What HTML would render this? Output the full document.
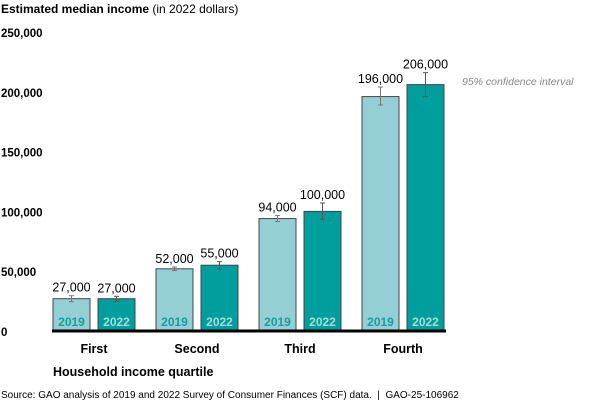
<!DOCTYPE html>
<html><head><meta charset="utf-8">
<style>
body{margin:0;background:#fff;}
svg{display:block;font-family:"Liberation Sans",Arial,sans-serif;}
</style></head>
<body>
<svg id="chart" width="600" height="404" viewBox="0 0 600 404">
<text x="1" y="13" font-size="12" fill="#000"><tspan font-weight="bold">Estimated median income</tspan> (in 2022 dollars)</text>
<g id="yaxis"></g>
<g id="bars"></g>
<line x1="52" x2="446" y1="331" y2="331" stroke="#000" stroke-width="3"/>
<g id="xaxis"></g>
<text x="462" y="85" font-size="10.5" font-style="italic" fill="#888">95% confidence interval</text>
<text x="53" y="376" font-size="12.5" font-weight="bold" fill="#000">Household income quartile</text>
<text x="1" y="398" font-size="10" fill="#000" xml:space="preserve">Source: GAO analysis of 2019 and 2022 Survey of Consumer Finances (SCF) data.  |  GAO-25-106962</text>
</svg>
<script>
const categories = ["First","Second","Third","Fourth"];
const years = ["2019","2022"];
const values2019 = [27000,52000,94000,196000];
const values2022 = [27000,55000,100000,206000];
const low2019 = [24500,50500,91500,189000];
const high2019 = [29500,53500,96500,204000];
const low2022 = [25000,52000,93500,196000];
const high2022 = [29000,58000,107000,216000];
const valueLabels2019 = ["27,000","52,000","94,000","196,000"];
const valueLabels2022 = ["27,000","55,000","100,000","206,000"];
const yTicks = [0,50000,100000,150000,200000,250000];
const yTickLabels = ["0","50,000","100,000","150,000","200,000","250,000"];

const NS="http://www.w3.org/2000/svg";
const y0=331, yTop=32, yMax=250000;
const y=v=>y0-(v/yMax)*(y0-yTop);
const groupX=i=>53+i*103;
const barW=37, gap=8;
function mk(tag,attrs,parent){const e=document.createElementNS(NS,tag);for(const k in attrs)e.setAttribute(k,attrs[k]);parent.appendChild(e);return e;}

const ya=document.getElementById('yaxis');
yTicks.forEach((t,i)=>{
  const tx=mk('text',{x:1,y:y(t)+5,'font-size':11.5,'font-weight':'bold',fill:'#000'},ya);
  tx.textContent=yTickLabels[i];
  
  
});

const bg=document.getElementById('bars');
const series=[
 {vals:values2019,lo:low2019,hi:high2019,lab:valueLabels2019,fill:'#93cfd4',tc:'#1a9e9c',eb:'#777'},
 {vals:values2022,lo:low2022,hi:high2022,lab:valueLabels2022,fill:'#009e9c',tc:'#a6dcdc',eb:'#555'}
];
categories.forEach((c,i)=>{
  series.forEach((s,j)=>{
    const x=groupX(i)+j*(barW+gap);
    const top=y(s.vals[i]);
    const r=mk('rect',{x:x,y:top,width:barW,height:y0-top,fill:s.fill,stroke:'#444','stroke-width':1},bg);
    
    
    const cx=x+barW/2, ylo=y(s.lo[i]), yhi=y(s.hi[i]);
    const eg=mk('g',{stroke:s.eb,'stroke-width':1},bg);
    
    
    mk('line',{x1:cx,x2:cx,y1:yhi,y2:ylo},eg);
    mk('line',{x1:cx-2.5,x2:cx+2.5,y1:yhi,y2:yhi},eg);
    mk('line',{x1:cx-2.5,x2:cx+2.5,y1:ylo,y2:ylo},eg);
    const vl=mk('text',{x:cx,y:Math.min(top,yhi)-4,'font-size':12.5,'text-anchor':'middle',fill:'#000'},bg);
    vl.textContent=s.lab[i];
    
    
    const yl=mk('text',{x:cx,y:y0-5,'font-size':12,'font-weight':'bold','text-anchor':'middle',fill:s.tc},bg);
    yl.textContent=years[j];
    
    
  });
});

const xa=document.getElementById('xaxis');
categories.forEach((c,i)=>{
  const t=mk('text',{x:groupX(i)+barW+gap/2,y:353,'font-size':12.5,'font-weight':'bold','text-anchor':'middle',fill:'#000'},xa);
  t.textContent=c;
  
  
});
</script>
</body></html>
